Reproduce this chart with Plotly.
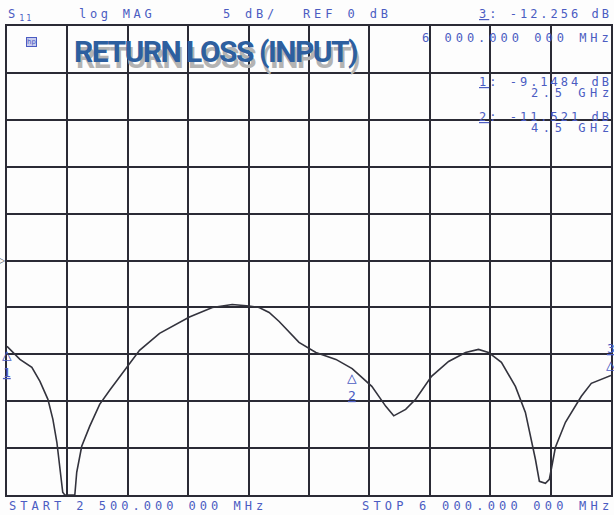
import plotly.graph_objects as go

# ---------------- data ----------------
freq_ghz = [2.500, 2.575, 2.644, 2.691, 2.737, 2.766, 2.789, 2.806, 2.823, 2.835,
            2.893, 2.904, 2.933, 2.979, 3.037, 3.095, 3.210, 3.268, 3.384, 3.557,
            3.690, 3.805, 3.903, 3.961, 4.019, 4.077, 4.192, 4.290, 4.406, 4.500,
            4.614, 4.695, 4.741, 4.810, 4.868, 4.960, 5.059, 5.157, 5.232, 5.290,
            5.365, 5.446, 5.504, 5.533, 5.562, 5.585, 5.620, 5.643, 5.678, 5.736,
            5.828, 5.886, 5.944, 6.000]
s11_db = [-9.15, -10.54, -11.40, -12.89, -14.80, -16.93, -19.38, -22.26, -24.71, -25.00,
          -25.00, -22.58, -19.81, -17.68, -15.34, -13.84, -10.97, -9.58, -7.77, -6.02,
          -5.01, -4.69, -4.85, -5.01, -5.54, -6.50, -8.73, -9.80, -10.54, -11.52,
          -13.42, -15.55, -16.56, -15.87, -14.80, -12.35, -10.76, -9.80, -9.48, -9.80,
          -10.86, -13.42, -16.19, -18.53, -21.19, -23.54, -23.75, -23.32, -19.91, -17.25,
          -14.48, -13.10, -12.67, -12.256]

marker_labels = ["1", "2", "3"]
marker_freq = [2.5, 4.5, 6.0]
marker_db = [-9.1484, -11.521, -12.256]
marker_above = [False, False, True]
marker_readouts = ["-9.1484 dB", "-11.521 dB", "-12.256 dB"]
marker_freq_text = ["2.5 GHz", "4.5 GHz", "6 000.000 000 MHz"]

x_range = [2.5, 6.0]
y_range = [-25, 25]
db_per_div = 5
ref_db = 0
title_text = "RETURN LOSS (INPUT)"
start_text = "START 2 500.000 000 MHz"
stop_text = "STOP 6 000.000 000 MHz"

# ---------------- layout helpers ----------------
W, H = 614, 515
L, R, T, B = 7, 1, 26, 20
PW, PH = W - L - R, H - T - B


def px(x):
    """screen x pixel -> paper coordinate"""
    return (x - L) / PW


def py(y):
    """screen y pixel -> paper coordinate"""
    return (H - B - y) / PH


BLUE = "#4b5cc2"
GRID = "#2b2b35"
MONO = "DejaVu Sans Mono, Liberation Mono, monospace"


def sp(t, ls=4.0):
    return f'<span style="letter-spacing:{ls}px">{t}</span>'


fig = go.Figure()
fig.add_trace(go.Scatter(x=freq_ghz, y=s11_db, mode="lines",
                         line=dict(color="#33333d", width=1.6),
                         hoverinfo="skip", showlegend=False))

ann = []


def text(t, x, y, anchor="left", size=12, color=BLUE, family=MONO, ls=4.0):
    ann.append(dict(text=sp(t, ls), x=px(x), y=py(y), xref="paper", yref="paper",
                    xanchor=anchor, yanchor="middle", showarrow=False,
                    xshift=ls if anchor == "right" else 0,
                    font=dict(family=family, size=size, color=color)))


def ul(t):
    return f'<span style="text-decoration:underline">{t}</span>'


# header line
ann.append(dict(text=sp("S") + '<span style="letter-spacing:2px"><sub>11</sub></span>',
                x=px(6), y=py(15), xref="paper", yref="paper", xanchor="left",
                yanchor="middle", showarrow=False,
                font=dict(family=MONO, size=12, color=BLUE)))
text("log MAG", 77, 14, ls=3.7)
text(f"{db_per_div} dB/", 222, 14, ls=3.8)
text(f"REF {ref_db} dB", 302, 14, ls=3.9)
text(f"{ul(marker_labels[2])}: {marker_readouts[2]}", 613, 14, anchor="right", ls=3.0)
text(marker_freq_text[2], 613, 38, anchor="right", ls=4.0)
text(f"{ul(marker_labels[0])}: {marker_readouts[0]}", 613, 82, anchor="right", ls=3.0)
text(marker_freq_text[0], 613, 93, anchor="right", ls=4.6)
text(f"{ul(marker_labels[1])}: {marker_readouts[1]}", 613, 117, anchor="right", ls=3.0)
text(marker_freq_text[1], 613, 128, anchor="right", ls=4.6)
# footer
text(start_text, 7, 506, ls=4.0)
text(stop_text, 613, 506, anchor="right", ls=4.2)

# title with grey shadow
TITLE_FONT = "Roboto, Noto Sans, sans-serif"
title_html = f'<b><span style="letter-spacing:-1.5px">{title_text}</span></b>'
ann.append(dict(text=title_html,
                x=px(74), y=py(57), xref="paper", yref="paper", xanchor="left",
                yanchor="middle", showarrow=False,
                font=dict(family=TITLE_FONT, size=30, color="#b3b3b3")))
ann.append(dict(text=title_html,
                x=px(72), y=py(51), xref="paper", yref="paper", xanchor="left",
                yanchor="middle", showarrow=False,
                font=dict(family=TITLE_FONT, size=30, color="#2d5f9f")))

# small instrument icon
ann.append(dict(text="hp", x=px(26), y=py(37), xref="paper", yref="paper",
                showarrow=False, bordercolor=BLUE, borderwidth=1, borderpad=0,
                bgcolor="#c9cdee",
                font=dict(family="DejaVu Sans", size=7, color=BLUE)))

# reference position marker on left edge
ann.append(dict(text="▷", x=0, y=ref_db, xref="paper", yref="y", xanchor="right",
                yanchor="middle", showarrow=False, xshift=1,
                font=dict(family="DejaVu Sans", size=8, color=GRID)))

# marker triangles
for lab, f, d, above in zip(marker_labels, marker_freq, marker_db, marker_above):
    tri = "<span style='font-size:16px'>△</span>"
    lbl = f"<span style='text-decoration:underline'>{lab}</span>"
    ann.append(dict(text=(f"{lbl}<br>{tri}" if above else f"{tri}<br>{lbl}"),
                    x=f, y=d, xref="x", yref="y",
                    xanchor="center", yanchor=("bottom" if above else "top"),
                    showarrow=False, yshift=(-1 if above else 3),
                    font=dict(family="DejaVu Sans Mono", size=13, color=BLUE)))

fig.update_layout(
    width=W, height=H,
    margin=dict(l=L, r=R, t=T, b=B, pad=0),
    paper_bgcolor="#fdfdfd", plot_bgcolor="#fdfdfd",
    annotations=ann,
    xaxis=dict(range=x_range, tick0=x_range[0], dtick=(x_range[1] - x_range[0]) / 10,
               showgrid=True, gridcolor=GRID, gridwidth=1.8, zeroline=False,
               showticklabels=False, ticks="", showline=True, linecolor=GRID,
               linewidth=2, mirror=True),
    yaxis=dict(range=y_range, tick0=y_range[0], dtick=db_per_div,
               showgrid=True, gridcolor=GRID, gridwidth=1.8, zeroline=False,
               showticklabels=False, ticks="", showline=True, linecolor=GRID,
               linewidth=2, mirror=True),
)

# remove the browser's default 8px page margin so the 614x515 figure fills the window
fig.write_html("out.html",
               config={"displayModeBar": False},
               post_script="document.body.style.margin='0';"
                           "document.body.style.overflow='hidden';")
